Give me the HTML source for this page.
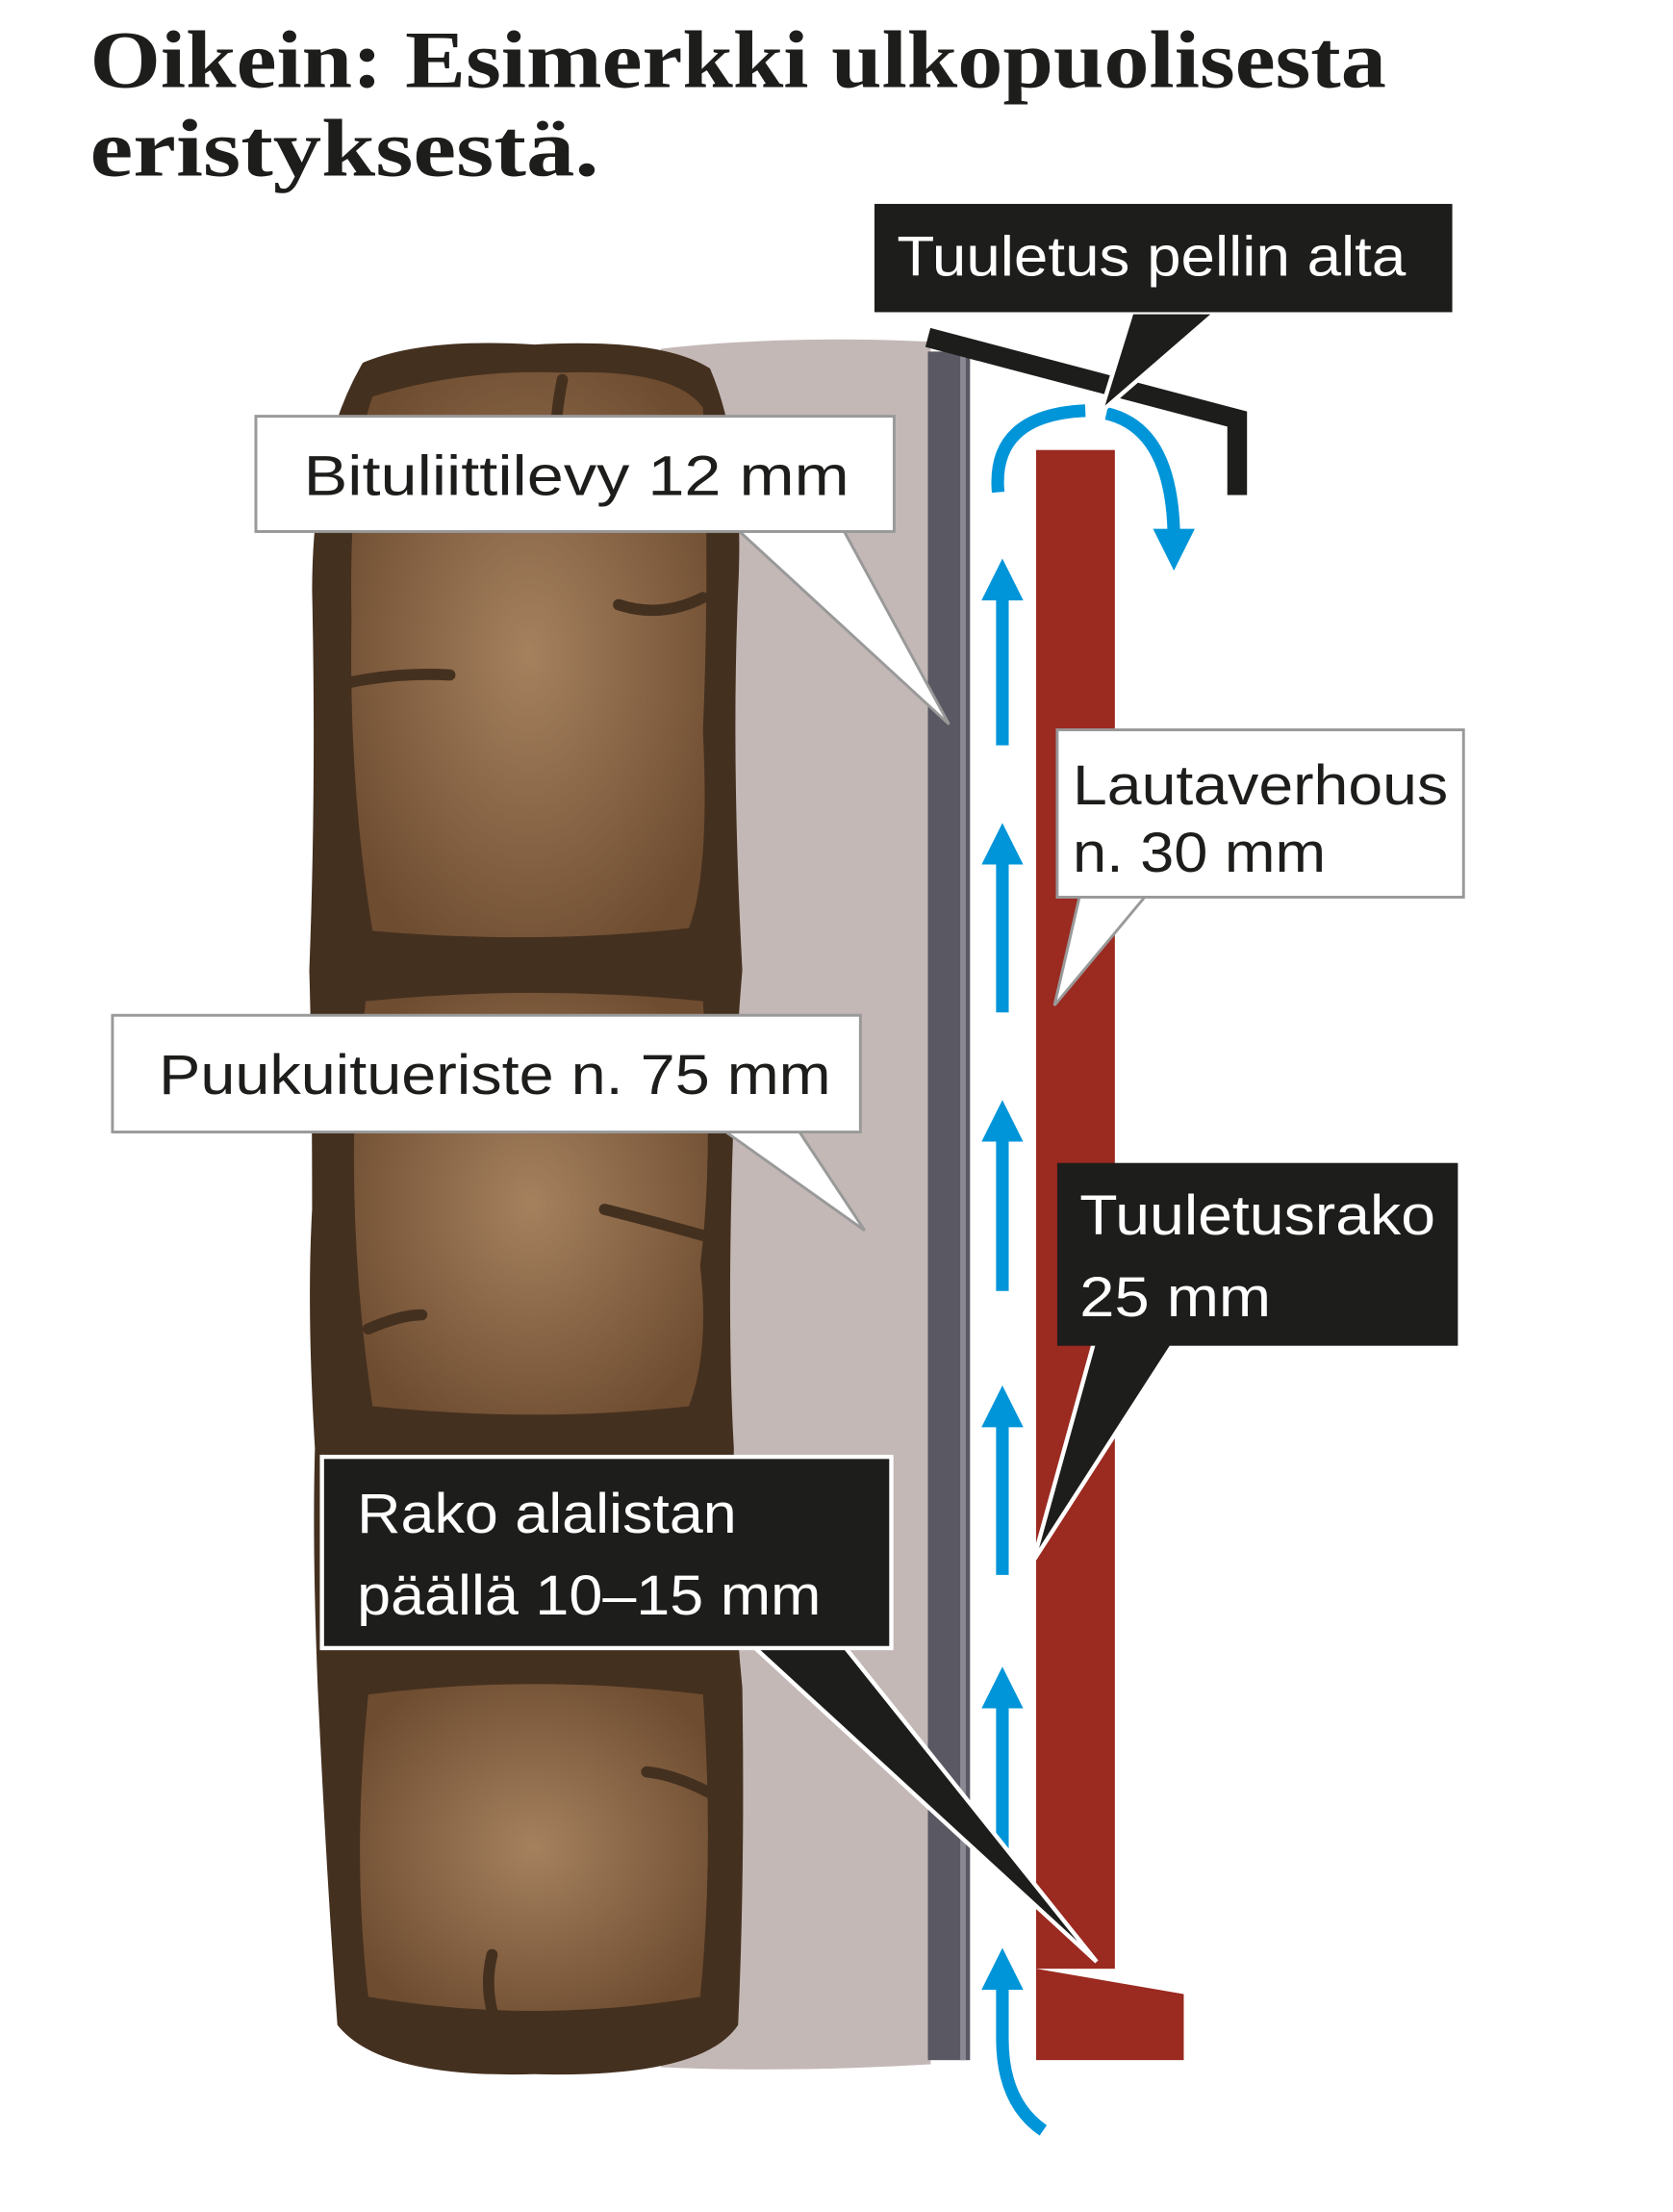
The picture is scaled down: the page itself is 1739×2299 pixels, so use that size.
<!DOCTYPE html>
<html><head><meta charset="utf-8"><style>
html,body{margin:0;padding:0;background:#fff;width:1739px;height:2299px;overflow:hidden}
svg{display:block}
.t{font-family:"Liberation Sans",sans-serif;font-size:40px}
.h{font-family:"Liberation Serif",serif;font-size:58px;font-weight:bold;fill:#1d1d1b}
</style></head><body>
<svg width="1739" height="2299" viewBox="0 0 1190 1573" preserveAspectRatio="none" xmlns="http://www.w3.org/2000/svg">
<defs>
<radialGradient id="st" cx="0.5" cy="0.5" r="0.6"><stop offset="0" stop-color="#a5815e"/><stop offset="1" stop-color="#6e4c30"/></radialGradient>
<marker id="ah" viewBox="0 0 10 10" refX="3" refY="5" markerWidth="3.3" markerHeight="3.3" orient="auto-start-reverse"><path d="M0,0L10,5L0,10z" fill="#0095d9"/></marker>
</defs>
<text class="h" x="64" y="62" textLength="922" lengthAdjust="spacingAndGlyphs">Oikein: Esimerkki ulkopuolisesta</text>
<text class="h" x="64" y="125" textLength="362" lengthAdjust="spacingAndGlyphs">eristyksestä.</text>

<path d="M470,248 Q560,238 662,243 L662,1468 Q560,1474 470,1470 Z" fill="#c3b8b6"/>
<path d="M258,258 Q300,240 380,245 Q470,240 505,262 Q530,320 525,420 Q520,540 528,690 Q522,760 520,860 Q518,960 522,1030 Q520,1120 528,1200 Q530,1330 525,1440 Q500,1478 380,1475 Q270,1478 240,1440 Q232,1330 226,1200 Q222,1100 224,1030 Q218,930 222,860 Q222,760 220,690 Q225,560 222,420 Q222,320 258,258Z" fill="#44301f"/>
<path d="M265,282 Q330,262 400,265 Q480,262 500,290 Q505,400 500,520 Q505,620 490,660 Q380,672 265,662 Q248,560 250,440 Q248,330 265,282Z" fill="url(#st)"/>
<path d="M260,712 Q380,700 500,712 Q508,820 498,900 Q505,960 490,1000 Q380,1012 265,1000 Q250,900 252,800 Z" fill="url(#st)"/>
<path d="M262,1060 Q380,1045 495,1060 Q500,1110 490,1150 Q380,1160 265,1150 Q252,1100 262,1060Z" fill="url(#st)"/>
<path d="M262,1205 Q380,1190 500,1205 Q508,1320 498,1420 Q380,1440 262,1420 Q250,1320 262,1205Z" fill="url(#st)"/>
<g stroke="#44301f" stroke-width="8" fill="none" stroke-linecap="round">
<path d="M400,270 Q390,320 400,360"/><path d="M440,430 Q470,440 500,425"/><path d="M250,485 Q285,478 320,480"/>
<path d="M430,860 Q470,870 505,880"/><path d="M262,945 Q285,935 300,935"/><path d="M460,1260 Q480,1262 505,1275"/><path d="M350,1390 Q345,1410 350,1430"/>
</g>
<rect x="660" y="250" width="30" height="1215" fill="#5a5863"/>
<rect x="683" y="250" width="4" height="1215" fill="#8a8892"/>
<polyline points="660,240 880,298 880,352" fill="none" stroke="#1d1d1b" stroke-width="14"/>
<rect x="737" y="320" width="56" height="1080" fill="#9b2a20"/>
<polygon points="737,1400 842,1418 842,1465 737,1465" fill="#9b2a20"/>
<g stroke="#0095d9" stroke-width="9" fill="none" marker-end="url(#ah)">
<line x1="713" y1="530" x2="713" y2="418"/><line x1="713" y1="720" x2="713" y2="606"/>
<line x1="713" y1="918" x2="713" y2="803"/><line x1="713" y1="1120" x2="713" y2="1006"/>
<line x1="713" y1="1318" x2="713" y2="1206"/>
<path d="M742,1515 Q713,1495 713,1450 L713,1406"/>
</g>
<g stroke="#0095d9" stroke-width="9" fill="none">
<path d="M710,350 Q705,295 772,292"/>
<path d="M787,294 Q835,305 835,385" marker-end="url(#ah)"/>
</g>
<polygon points="805,222 865,222 783,293" fill="#1d1d1b" stroke="#fff" stroke-width="3"/>
<rect x="622" y="145" width="411" height="77" fill="#1d1d1b"/>
<text class="t" x="638" y="196" fill="#fff" textLength="362" lengthAdjust="spacingAndGlyphs">Tuuletus pellin alta</text>

<polygon points="525,377 600,377 675,515" fill="#fff" stroke="#999" stroke-width="2"/>
<rect x="182" y="296" width="454" height="82" fill="#fff" stroke="#999" stroke-width="2"/>
<rect x="520" y="370" width="85" height="7" fill="#fff"/>
<text class="t" x="216" y="352" fill="#1d1d1b" textLength="388" lengthAdjust="spacingAndGlyphs">Bituliittilevy 12 mm</text>

<polygon points="768,637 815,637 750,715" fill="#fff" stroke="#999" stroke-width="2"/>
<rect x="752" y="519" width="289" height="119" fill="#fff" stroke="#999" stroke-width="2"/>
<rect x="765" y="630" width="55" height="7" fill="#fff"/>
<text class="t" x="763" y="572" fill="#1d1d1b" textLength="267" lengthAdjust="spacingAndGlyphs">Lautaverhous</text>
<text class="t" x="763" y="620" fill="#1d1d1b" textLength="180" lengthAdjust="spacingAndGlyphs">n. 30 mm</text>

<polygon points="515,804 568,804 615,875" fill="#fff" stroke="#999" stroke-width="2"/>
<rect x="80" y="722" width="532" height="83" fill="#fff" stroke="#999" stroke-width="2"/>
<rect x="510" y="796" width="63" height="8" fill="#fff"/>
<text class="t" x="113" y="778" fill="#1d1d1b" textLength="478" lengthAdjust="spacingAndGlyphs">Puukuitueriste n. 75 mm</text>

<polygon points="778,955 835,955 735,1110" fill="#1d1d1b" stroke="#fff" stroke-width="3"/>
<rect x="752" y="827" width="285" height="130" fill="#1d1d1b"/>
<text class="t" x="768" y="878" fill="#fff" textLength="253" lengthAdjust="spacingAndGlyphs">Tuuletusrako</text>
<text class="t" x="768" y="936" fill="#fff" textLength="136" lengthAdjust="spacingAndGlyphs">25 mm</text>

<polygon points="535,1170 600,1170 780,1395" fill="#1d1d1b" stroke="#fff" stroke-width="3"/>
<rect x="229" y="1036" width="405" height="136" fill="#1d1d1b" stroke="#fff" stroke-width="3"/>
<rect x="540" y="1160" width="55" height="10" fill="#1d1d1b"/>
<text class="t" x="254" y="1090" fill="#fff" textLength="270" lengthAdjust="spacingAndGlyphs">Rako alalistan</text>
<text class="t" x="254" y="1148" fill="#fff" textLength="330" lengthAdjust="spacingAndGlyphs">päällä 10–15 mm</text>
</svg>
</body></html>
